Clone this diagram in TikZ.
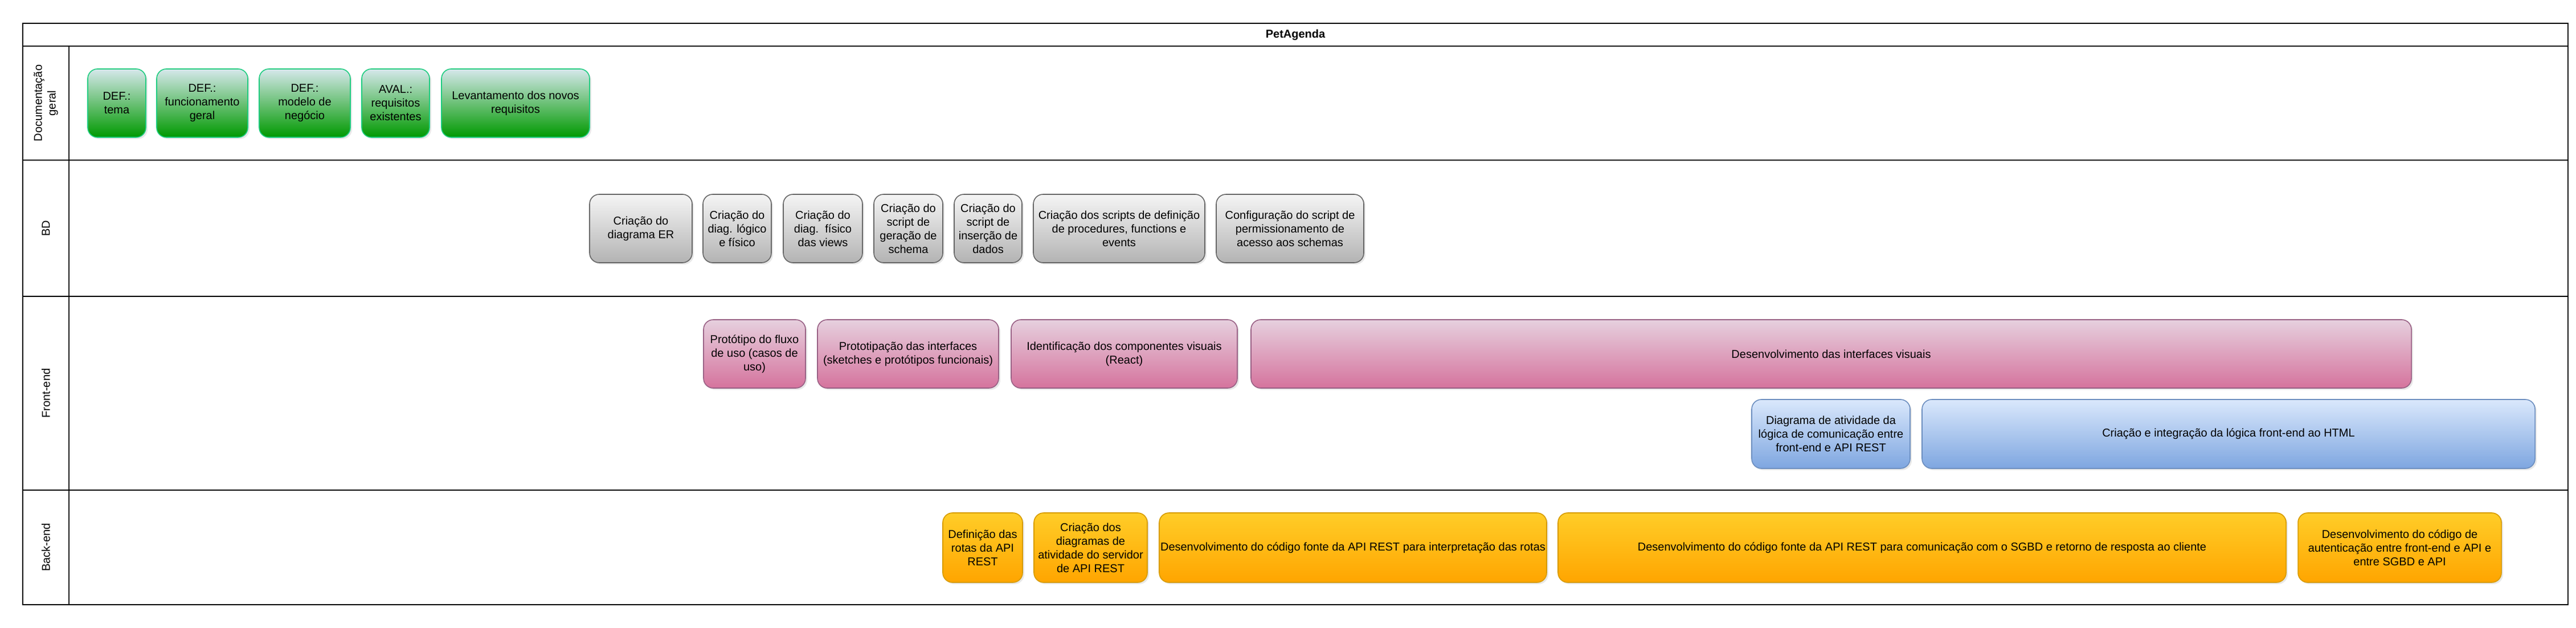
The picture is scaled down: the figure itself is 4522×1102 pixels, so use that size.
\documentclass[tikz,border=0pt]{standalone}
\usepackage{fontspec}
\setmainfont{Liberation Sans}
\usetikzlibrary{shadows}
\definecolor{grTop}{HTML}{D6E8EC}
\definecolor{grBot}{HTML}{009900}
\definecolor{grLine}{HTML}{1FCC80}
\definecolor{gyTop}{HTML}{F5F5F5}
\definecolor{gyBot}{HTML}{B3B3B3}
\definecolor{gyLine}{HTML}{666666}
\definecolor{pkTop}{HTML}{E6D0DE}
\definecolor{pkBot}{HTML}{D5739D}
\definecolor{pkLine}{HTML}{996185}
\definecolor{blTop}{HTML}{DAE8FC}
\definecolor{blBot}{HTML}{7EA6E0}
\definecolor{blLine}{HTML}{6C8EBF}
\definecolor{ylTop}{HTML}{FFCD28}
\definecolor{ylBot}{HTML}{FFA500}
\definecolor{ylLine}{HTML}{D79B00}
\newcommand{\taskbox}[7]{%
  \node[#1, minimum width={(#4-#3)*0.5pt}, minimum height={(#6-#5)*0.5pt}] (#2) at ({(#3+#4)/2},{(#5+#6)/2}) {#7};}
\begin{document}
\begin{tikzpicture}[x=0.5pt,y=-0.5pt,
  font=\fontsize{10pt}{12pt}\selectfont,
  lane/.style={line width=1.2pt, draw=black},
  lanelabel/.style={rotate=90, align=center, inner sep=0pt},
  task/.style={rounded corners=8.5pt, line width=0.8pt, align=center, inner sep=0pt,
    drop shadow={opacity=0.18, shadow xshift=1.5pt, shadow yshift=-1.5pt}},
  greentask/.style={task, draw=grLine, top color=grTop, bottom color=grBot},
  graytask/.style={task, draw=gyLine, top color=gyTop, bottom color=gyBot},
  pinktask/.style={task, draw=pkLine, top color=pkTop, bottom color=pkBot},
  bluetask/.style={task, draw=blLine, top color=blTop, bottom color=blBot},
  yellowtask/.style={task, draw=ylLine, top color=ylTop, bottom color=ylBot}]
\useasboundingbox (0,0) rectangle (4522,1102);
% swimlane frame
\draw[lane] (40,41) rectangle (4508,1061);
\draw[lane] (40,81) -- (4508,81);
\draw[lane] (40,281) -- (4508,281);
\draw[lane] (40,520) -- (4508,520);
\draw[lane] (40,860) -- (4508,860);
\draw[lane] (121,81) -- (121,1061);
\node[font=\fontsize{10pt}{12pt}\selectfont\bfseries] (title) at (2274,61) {PetAgenda};
\node[lanelabel] (labdoc) at (80.5,181) {Documentação\\geral};
\node[lanelabel] (labbd) at (80.5,400.5) {BD};
\node[lanelabel] (labfe) at (80.5,690) {Front-end};
\node[lanelabel] (labbe) at (80.5,960.5) {Back-end};
% Documentação geral
\taskbox{greentask}{d1}{154}{256}{121}{241}{DEF.:\\tema}
\taskbox{greentask}{d2}{275}{435}{121}{241}{DEF.:\\funcionamento\\geral}
\taskbox{greentask}{d3}{455}{615}{121}{241}{DEF.:\\modelo de\\negócio}
\taskbox{greentask}{d4}{635}{754}{121}{241}{AVAL.:\\requisitos\\existentes}
\taskbox{greentask}{d5}{775}{1035}{121}{241}{Levantamento dos novos\\requisitos}
% BD
\taskbox{graytask}{b1}{1035}{1215}{341}{461}{Criação do\\diagrama ER}
\taskbox{graytask}{b2}{1234}{1354}{341}{461}{Criação do\\diag. lógico\\e físico}
\taskbox{graytask}{b3}{1375}{1514}{341}{461}{Criação do\\diag.\ \ físico\\das views}
\taskbox{graytask}{b4}{1534}{1655}{341}{461}{Criação do\\script de\\geração de\\schema}
\taskbox{graytask}{b5}{1675}{1794}{341}{461}{Criação do\\script de\\inserção de\\dados}
\taskbox{graytask}{b6}{1814}{2115}{341}{461}{Criação dos scripts de definição\\de procedures, functions e\\events}
\taskbox{graytask}{b7}{2135}{2394}{341}{461}{Configuração do script de\\permissionamento de\\acesso aos schemas}
% Front-end
\taskbox{pinktask}{f1}{1235}{1414}{561}{681}{Protótipo do fluxo\\de uso (casos de\\uso)}
\taskbox{pinktask}{f2}{1435}{1753}{561}{681}{Prototipação das interfaces\\(sketches e protótipos funcionais)}
\taskbox{pinktask}{f3}{1775}{2172}{561}{681}{Identificação dos componentes visuais\\(React)}
\taskbox{pinktask}{f4}{2196}{4233}{561}{681}{Desenvolvimento das interfaces visuais}
\taskbox{bluetask}{f5}{3075}{3353}{701}{822}{Diagrama de atividade da\\lógica de comunicação entre\\front-end e API REST}
\taskbox{bluetask}{f6}{3374}{4450}{701}{822}{Criação e integração da lógica front-end ao HTML}
% Back-end
\taskbox{yellowtask}{e1}{1655}{1795}{900}{1022}{Definição das\\rotas da API\\REST}
\taskbox{yellowtask}{e2}{1815}{2014}{900}{1022}{Criação dos\\diagramas de\\atividade do servidor\\de API REST}
\taskbox{yellowtask}{e3}{2035}{2715}{900}{1022}{Desenvolvimento do código fonte da API REST para interpretação das rotas}
\taskbox{yellowtask}{e4}{2735}{4013}{900}{1022}{Desenvolvimento do código fonte da API REST para comunicação com o SGBD e retorno de resposta ao cliente}
\taskbox{yellowtask}{e5}{4034}{4391}{900}{1022}{Desenvolvimento do código de\\autenticação entre front-end e API e\\entre SGBD e API}
\end{tikzpicture}
\end{document}
